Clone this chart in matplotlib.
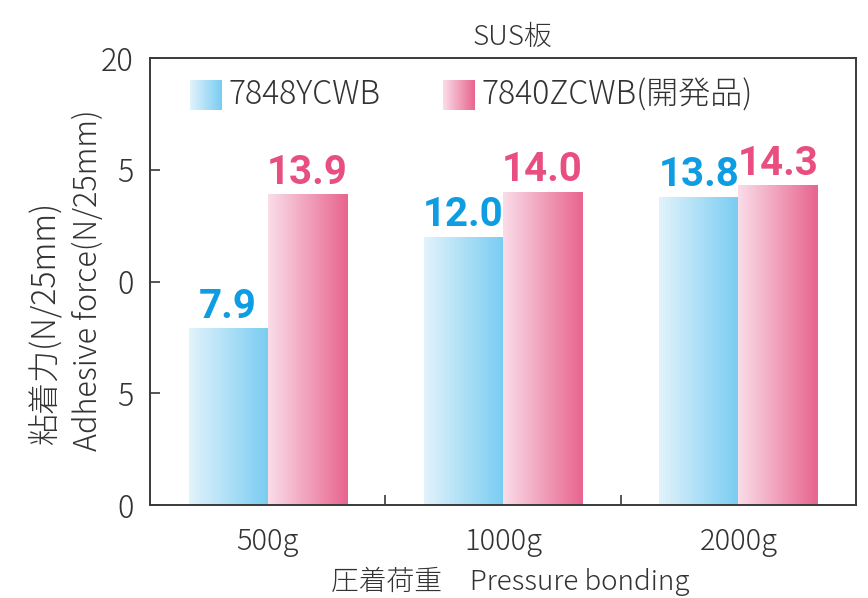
import matplotlib
matplotlib.use("Agg")
import matplotlib.pyplot as plt
import numpy as np
from matplotlib.colors import LinearSegmentedColormap

plt.rcParams['font.family'] = ['Noto Sans CJK JP', 'DejaVu Sans']
plt.rcParams['font.weight'] = 'light'

# data
categories = ['500g', '1000g', '2000g']
series_names = ['7848YCWB', '7840ZCWB(開発品)']
ycwb = [7.9, 12.0, 13.8]
zcwb = [13.9, 14.0, 14.3]
ytick_vals = [0, 5, 10, 15, 20]
ytick_labels = ['0', '5', '0', '5', '20']

blue_cmap = LinearSegmentedColormap.from_list('b', ['#e2f3fb', '#79ccf2'])
pink_cmap = LinearSegmentedColormap.from_list('p', ['#fadde9', '#e8648e'])
blue_txt = '#0e9de2'
pink_txt = '#e84f80'
frame = '#3a3a3a'
txt = '#333333'
grad = np.linspace(0, 1, 256).reshape(1, -1)

fig = plt.figure(figsize=(8.68, 5.98), dpi=100)
ax = fig.add_axes([0.1728, 0.1555, 0.8134, 0.7475])

x = np.arange(len(categories))
w = 0.336

def gradient_bars(xs, vals, cmap, txtcol):
    bars = ax.bar(xs, vals, w, color='none', edgecolor='none')
    for b, v in zip(bars, vals):
        x0, y0 = b.get_x(), b.get_y()
        im = ax.imshow(grad, cmap=cmap, aspect='auto',
                       extent=[x0, x0 + b.get_width(), y0, y0 + b.get_height()],
                       zorder=2)
        im.set_clip_path(b)
        ax.annotate(f'{v:.1f}', (x0 + b.get_width() / 2, v), xytext=(0, 2),
                    textcoords='offset points', ha='center', va='bottom',
                    color=txtcol, fontsize=29, fontweight='bold',
                    family=['Roboto', 'DejaVu Sans'])

gradient_bars(x - w / 2, ycwb, blue_cmap, blue_txt)
gradient_bars(x + w / 2, zcwb, pink_cmap, pink_txt)

ax.set_xlim(-0.5, 2.5)
ax.set_ylim(0, 20)
ax.set_yticks(ytick_vals)
ax.set_yticklabels(ytick_labels)
ax.set_xticks([0.5, 1.5])
ax.set_xticklabels([])
ax.tick_params(axis='both', direction='in', length=7, width=1.2, color=frame,
               labelsize=22, labelcolor=txt, pad=12)
for i, c in enumerate(categories):
    ax.text(i, -0.95, c, ha='center', va='top', fontsize=21, color=txt)
for s in ax.spines.values():
    s.set_color(frame)
    s.set_linewidth(1.4)

# legend with gradient swatches
for cmap, x0, name in [(blue_cmap, 0.0567, series_names[0]),
                       (pink_cmap, 0.415, series_names[1])]:
    ax.imshow(grad, cmap=cmap, aspect='auto', transform=ax.transAxes,
              extent=[x0, x0 + 0.045, 0.884, 0.951], zorder=3)
    ax.text(x0 + 0.055, 0.917, name, transform=ax.transAxes, ha='left',
            va='center', fontsize=23, color=txt)

fig.text(0.59, 0.938, 'SUS板', ha='center', va='center', fontsize=20, color=txt)
fig.text(0.588, 0.028, '圧着荷重　Pressure bonding', ha='center', va='center',
         fontsize=20, color=txt)
fig.text(0.052, 0.46, '粘着力(N/25mm)', rotation=90, ha='center', va='center',
         fontsize=23, color=txt)
fig.text(0.101, 0.532, 'Adhesive force(N/25mm)', rotation=90, ha='center',
         va='center', fontsize=22, color=txt)

fig.savefig('out.png', dpi=100)
